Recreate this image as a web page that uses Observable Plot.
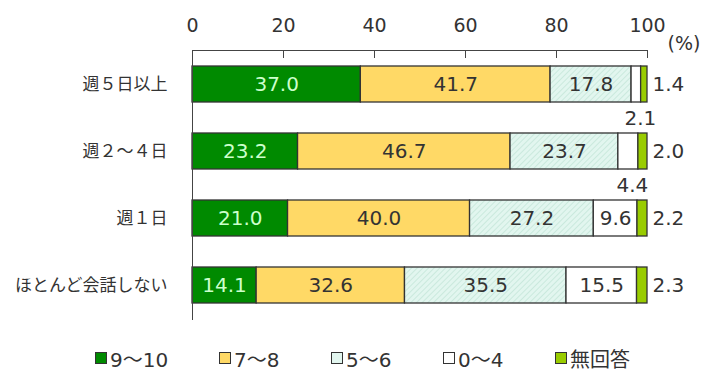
<!DOCTYPE html>
<html>
<head>
<meta charset="utf-8">
<script src="https://cdn.jsdelivr.net/npm/d3@7"></script>
<script src="https://cdn.jsdelivr.net/npm/@observablehq/plot@0.6"></script>
<style>
  body { margin: 0; background: #fff; }
  #legend { display: flex; align-items: center; margin-left: 95px; margin-top: 16px; height: 24px;
    font-family: "DejaVu Sans", "Noto Sans CJK JP", sans-serif; font-size: 20px; color: #333; }
  .item { display: flex; align-items: center; width: 112px; }
  .item:first-child { width: 124px; }
  .sw { width: 10px; height: 10px; border: 1px solid #333; margin-right: 3px; }
</style>
</head>
<body>
<div id="chart"></div>
<div id="legend"></div>
<script>
const categories = ["週５日以上", "週２～４日", "週１日", "ほとんど会話しない"];
const seriesNames = ["9～10", "7～8", "5～6", "0～4", "無回答"];
const v9to10 = [37.0, 23.2, 21.0, 14.1];
const v7to8 = [41.7, 46.7, 40.0, 32.6];
const v5to6 = [17.8, 23.7, 27.2, 35.5];
const v0to4 = [2.1, 4.4, 9.6, 15.5];
const vNoAnswer = [1.4, 2.0, 2.2, 2.3];
const xTicks = [0, 20, 40, 60, 80, 100];
const seriesColors = ["#008a00", "#ffd966", "url(#hatch)", "#ffffff", "#99cc00"];

const values = [v9to10, v7to8, v5to6, v0to4, vNoAnswer];
const rows = [];
categories.forEach((c, i) => {
  let acc = 0;
  seriesNames.forEach((s, j) => {
    const v = values[j][i];
    rows.push({category: c, series: s, si: j, value: v, start: acc, end: acc + v, mid: acc + v / 2});
    acc += v;
  });
});

const numFont = "DejaVu Sans, Noto Sans CJK JP, sans-serif";
const fmt = d => d.value.toFixed(1);

const chart = Plot.plot({
  width: 724,
  height: 330,
  marginLeft: 192,
  marginRight: 77,
  marginTop: 50,
  marginBottom: 10,
  style: {background: "#fff", color: "#333"},
  x: {domain: [0, 100], axis: null},
  y: {domain: categories, paddingInner: 0.46, paddingOuter: 0.23, axis: null},
  color: {domain: seriesNames, range: seriesColors},
  marks: [
    Plot.barX(rows, {x1: "start", x2: "end", y: "category", fill: "series", stroke: "#333", strokeWidth: 1.3}),
    Plot.axisX(xTicks, {anchor: "top", tickSize: 0, tickPadding: 19, fontSize: 19, fontFamily: numFont, fill: "#333", label: null}),
    Plot.axisY({anchor: "left", tickSize: 0, tickPadding: 25, fontSize: 17, fontFamily: "Noto Sans CJK JP, sans-serif", fill: "#333", label: null}),
    Plot.frame({anchor: "top", stroke: "#444"}),
    Plot.ruleX([0], {stroke: "#444"}),
    Plot.ruleX(xTicks, {x: d => d, insetBottom: 262, stroke: "#444"}),
    Plot.text(rows.filter(d => d.si === 0), {x: "mid", y: "category", text: fmt, fill: "#ccffcc", fontSize: 20, fontFamily: numFont}),
    Plot.text(rows.filter(d => d.si > 0 && d.si < 4 && d.value >= 5), {x: "mid", y: "category", text: fmt, fill: "#333", fontSize: 20, fontFamily: numFont}),
    Plot.text(rows.filter(d => d.si === 3 && d.value < 5), {x: "mid", y: "category", text: fmt, dx: 4, dy: 34, fill: "#333", fontSize: 20, fontFamily: numFont}),
    Plot.text(rows.filter(d => d.si === 4), {x: "end", y: "category", text: fmt, dx: 5, textAnchor: "start", fill: "#333", fontSize: 20, fontFamily: numFont}),
    Plot.text(["(%)"], {frameAnchor: "top-right", text: d => d, dx: 20, dy: -14, textAnchor: "start", fill: "#333", fontSize: 19, fontFamily: numFont})
  ]
});

// hatch pattern for the 5～6 series
const ns = "http://www.w3.org/2000/svg";
const defs = document.createElementNS(ns, "defs");
const pat = document.createElementNS(ns, "pattern");
pat.setAttribute("id", "hatch");
pat.setAttribute("patternUnits", "userSpaceOnUse");
pat.setAttribute("width", "4");
pat.setAttribute("height", "4");
pat.setAttribute("patternTransform", "rotate(45)");
const bg = document.createElementNS(ns, "rect");
bg.setAttribute("width", "4"); bg.setAttribute("height", "4"); bg.setAttribute("fill", "#e2f6ef");
const ln = document.createElementNS(ns, "line");
ln.setAttribute("x1", "0"); ln.setAttribute("y1", "0"); ln.setAttribute("x2", "0"); ln.setAttribute("y2", "4");
ln.setAttribute("stroke", "#b3dccb"); ln.setAttribute("stroke-width", "1");
pat.appendChild(bg); pat.appendChild(ln); defs.appendChild(pat);
chart.insertBefore(defs, chart.firstChild);

document.getElementById("chart").appendChild(chart);

const legend = document.getElementById("legend");
seriesNames.forEach((s, j) => {
  const item = document.createElement("div");
  item.className = "item";
  const sw = document.createElement("div");
  sw.className = "sw";
  sw.style.background = j === 2 ? "#e2f6ef" : seriesColors[j];
  const t = document.createElement("span");
  t.textContent = s;
  item.appendChild(sw); item.appendChild(t);
  legend.appendChild(item);
});
</script>
</body>
</html>
